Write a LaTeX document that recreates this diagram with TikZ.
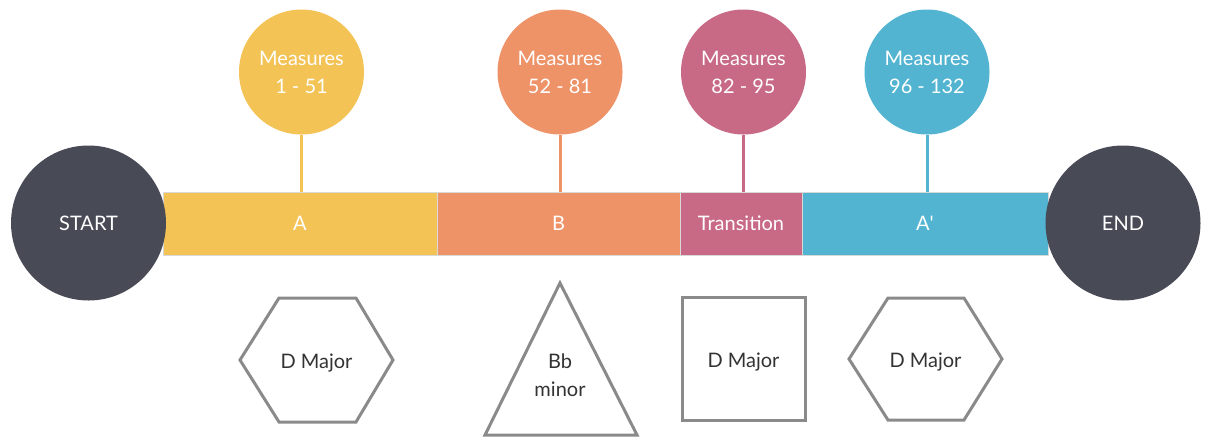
\documentclass[tikz,border=0pt]{standalone}
\usepackage{fontspec}
\setmainfont{Lato}
\usepackage{tikz}

\definecolor{secA}{HTML}{F3C355}
\definecolor{secB}{HTML}{EE9268}
\definecolor{secT}{HTML}{C86A86}
\definecolor{secAA}{HTML}{52B4D1}
\definecolor{ends}{HTML}{484A56}
\definecolor{keyline}{HTML}{8A8A8A}
\definecolor{keytext}{HTML}{333333}

\begin{document}
\begin{tikzpicture}[x=0.75pt,y=-0.75pt]
				\tikzstyle{txt}=[font=\fontsize{15}{21}\selectfont, align=center]
				\tikzstyle{c}=[circle, txt, text=white, inner sep=0pt]
				\tikzstyle{m}=[c, minimum size=93.75pt]
				\tikzstyle{e}=[c, fill=ends, minimum size=116.25pt]
				\tikzstyle{seg}=[rectangle, txt, text=white, draw=black!15, line width=0.4pt, inner sep=0pt, minimum height=47.25pt]
				\tikzstyle{key}=[draw=keyline, line width=2.25pt, line join=miter]

				\useasboundingbox (0,0) rectangle (1207,437);

				% the timeline
				\node[seg, fill=secA, minimum width=205.5pt] (A) at (300,223.5) {A};
				\node[seg, fill=secB, minimum width=182.25pt] (B) at (558.5,223.5) {B};
				\node[seg, fill=secT, minimum width=91.5pt] (T) at (741,223.5) {Transition};
				\node[seg, fill=secAA, minimum width=184.5pt] (A2) at (925,223.5) {A\textquotesingle};

				\node[e] (start) at (88.5,223) {START};
				\node[e] (end) at (1123,223) {END};

				% measures
				\node[m, fill=secA] (mA) at (301.5,72) {Measures\\1 - 51};
				\node[m, fill=secB] (mB) at (560,72) {Measures\\52 - 81};
				\node[m, fill=secT] (mT) at (743.5,72) {Measures\\82 - 95};
				\node[m, fill=secAA] (mA2) at (927,72) {Measures\\96 - 132};

				\foreach \from/\to/\col in {mA/A/secA,mB/B/secB,mT/T/secT,mA2/A2/secAA}
				\draw [\col, line width=2.25pt] (\from.south) -- (\from.south |- \to.north);

				% keys
				\draw[key] (240,360) -- (279,298) -- (356,298) -- (393,360) -- (356,422) -- (279,422) -- cycle;
				\node[txt, text=keytext] (kA) at (316.5,363) {D Major};

				\draw[key] (560,283) -- (637,435) -- (485,435) -- cycle;
				\node[txt, text=keytext] (kB) at (560,375) {Bb\\minor};

				\node[key, rectangle, txt, text=keytext, minimum size=92.25pt] (kT) at (743.5,359) {};
				\node[txt, text=keytext] (kTt) at (743.5,362) {D Major};

				\draw[key] (849,359) -- (888,298) -- (964,298) -- (1002,359) -- (964,420) -- (888,420) -- cycle;
				\node[txt, text=keytext] (kA2) at (925.5,362) {D Major};
			\end{tikzpicture}
\end{document}
